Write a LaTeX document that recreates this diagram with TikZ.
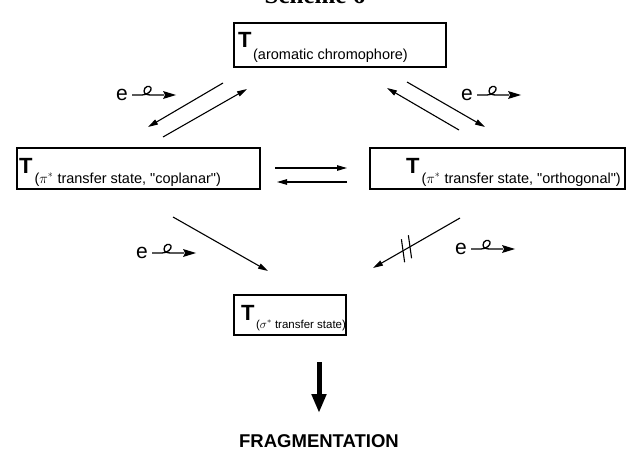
\documentclass[tikz,border=0pt]{standalone}
\usepackage{fontspec}
\setmainfont{Liberation Sans}
\newfontfamily\myserif{Liberation Serif}
\usetikzlibrary{arrows.meta,calc}
\newcommand\myT{{\fontsize{22}{22}\selectfont\bfseries T}}
\newcommand\mysub[3]{\raisebox{-#1}{\fontsize{#2}{#2}\selectfont #3}}
\newcommand\sq{\textquotedbl}
\begin{document}
\begin{tikzpicture}[x=1pt,y=-1pt,
  box/.style={draw, line width=1.2pt, inner sep=0pt},
  lbl/.style={anchor=base west, inner sep=0pt},
  arr/.style={line width=1.1pt, -{Triangle[length=10pt,width=5.5pt]}},
  bar/.style={line width=1.1pt},
  elbl/.style={inner sep=0pt, font=\fontsize{21}{21}\selectfont},
  squig/.pic={
    \draw[line width=1.3pt, line join=round]
      (0,0) -- (10,0)
      .. controls (15,0) and (20,-4) .. (19,-7)
      .. controls (18,-10) and (12,-9) .. (12,-4)
      .. controls (12,-1) and (15,0) .. (19,0) -- (32,0);
    \fill (44,0) -- (31,-4) -- (33,0) -- (31,4) -- cycle;
  }
  ]
\useasboundingbox (0,0) rectangle (627,455);

% title (cut at top in the reference)
\node[inner sep=0pt, anchor=base] (title) at (315,4)
  {\myserif\bfseries\fontsize{25}{25}\selectfont Scheme 6};

% boxes
\node[box, minimum width=212pt, minimum height=44pt] (boxA) at (340,45) {};
\node[box, minimum width=243pt, minimum height=41pt] (boxB) at (138.5,168.5) {};
\node[box, minimum width=255pt, minimum height=41pt] (boxC) at (497.5,168.5) {};
\node[box, minimum width=112pt, minimum height=40pt] (boxD) at (290,315) {};

% box texts
\node[lbl] (tA) at (238,47) {\myT\hspace{1.5pt}\mysub{13pt}{14.5}{(aromatic chromophore)}};
\node[lbl] (tB) at (19,173) {\myT\hspace{2pt}\mysub{10pt}{14.5}{($\pi^{*}$ transfer state, \sq coplanar\sq)}};
\node[lbl] (tC) at (406,173) {\myT\hspace{2pt}\mysub{10pt}{14.5}{($\pi^{*}$ transfer state, \sq orthogonal\sq)}};
\node[lbl] (tD) at (241,320) {\myT\hspace{1.5pt}\mysub{8pt}{11.5}{($\sigma^{*}$ transfer state)}};

% arrow end points
\coordinate (a1s) at (223,83);  \coordinate (a1e) at (148,127);
\coordinate (a2s) at (163,137); \coordinate (a2e) at (247,89);
\coordinate (b1s) at (407,82);  \coordinate (b1e) at (485,127);
\coordinate (b2s) at (459,130); \coordinate (b2e) at (387,88);
\coordinate (h1s) at (275,168); \coordinate (h1e) at (347,168);
\coordinate (h2s) at (347,182); \coordinate (h2e) at (277,182);
\coordinate (d1s) at (173,217); \coordinate (d1e) at (268,271);
\coordinate (d2s) at (460,218); \coordinate (d2e) at (373,268);
\coordinate (fs) at (319,362);  \coordinate (fe) at (319,413);

\draw[arr] (a1s) -- (a1e);
\draw[arr] (a2s) -- (a2e);
\draw[arr] (b1s) -- (b1e);
\draw[arr] (b2s) -- (b2e);
\draw[arr] (h1s) -- (h1e);
\draw[arr] (h2s) -- (h2e);
\draw[arr] (d1s) -- (d1e);
\draw[arr] (d2s) -- (d2e);
\draw[bar] ($(d2s)!0.575!(d2e)$) ++(-1.6,-11.5) -- ++(3.2,23);
\draw[bar] ($(d2s)!0.655!(d2e)$) ++(-1.6,-11.5) -- ++(3.2,23);

% big arrow to fragmentation
\draw[line width=5pt, -{Triangle[length=19pt,width=14pt]}] (fs) -- (fe);
\node[inner sep=0pt, font=\bfseries\fontsize{18.5}{18.5}\selectfont] (frag) at (319,441) {FRAGMENTATION};

% electron transfer labels
\node[elbl] (e1) at (122,95) {e};
\pic at ([xshift=4pt]e1.east |- 0,95) {squig};
\node[elbl] (e2) at (467,95) {e};
\pic at ([xshift=4pt]e2.east |- 0,95) {squig};
\node[elbl] (e3) at (142,253) {e};
\pic at ([xshift=4pt]e3.east |- 0,253) {squig};
\node[elbl] (e4) at (461,249) {e};
\pic at ([xshift=4pt]e4.east |- 0,249) {squig};
\end{tikzpicture}
\end{document}
